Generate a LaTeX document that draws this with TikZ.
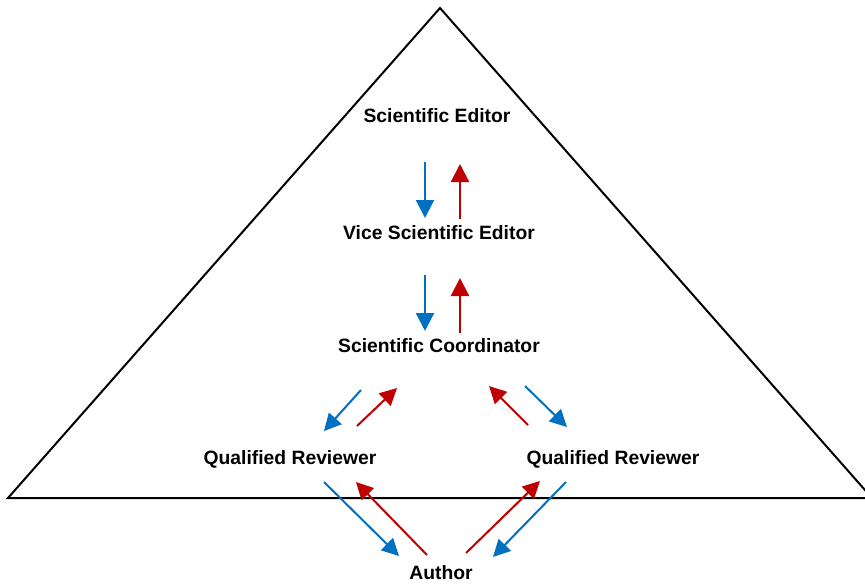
\documentclass[tikz,border=0pt]{standalone}
\usepackage{fontspec}
\setmainfont{Liberation Sans}
\usetikzlibrary{arrows.meta}
\definecolor{flowblue}{RGB}{0,112,192}
\definecolor{flowred}{RGB}{192,0,0}
\begin{document}
\begin{tikzpicture}[x=1pt,y=-1pt,
  lbl/.style={font=\fontsize{19.3}{21}\selectfont\bfseries, inner sep=0pt, anchor=center},
  down/.style={draw=flowblue, line width=2.2pt, -{Triangle[length=18pt,width=18pt]}},
  up/.style={draw=flowred, line width=2.2pt, -{Triangle[length=18pt,width=18pt]}},
  dgdown/.style={draw=flowblue, line width=2pt, -{Triangle[length=17pt,width=17pt]}},
  dgup/.style={draw=flowred, line width=2pt, -{Triangle[length=17pt,width=17pt]}}]
\useasboundingbox (0,0) rectangle (865,584);
\clip (0,0) rectangle (865,584);
\fill[white] (0,0) rectangle (865,584);
% pyramid
\coordinate (apex) at (440,8);
\coordinate (bl) at (8,498);
\coordinate (br) at (872,498);
\draw[line width=2pt, line join=miter] (bl) -- (apex) -- (br) -- cycle;
% labels
\node[lbl] (se) at (437,116) {Scientific Editor};
\node[lbl] (vse) at (439,233) {Vice Scientific Editor};
\node[lbl] (sc) at (439,346) {Scientific Coordinator};
\node[lbl] (qrl) at (290,459) {Qualified Reviewer};
\node[lbl] (qrr) at (613,459) {Qualified Reviewer};
\node[lbl] (au) at (441,573) {Author};
% vertical arrow ends
\coordinate (b1s) at (425,162); \coordinate (b1e) at (425,218);
\coordinate (r1s) at (460,219); \coordinate (r1e) at (460,164);
\coordinate (b2s) at (425,275); \coordinate (b2e) at (425,331);
\coordinate (r2s) at (460,333); \coordinate (r2e) at (460,278);
\draw[down] (b1s) -- (b1e);
\draw[up] (r1s) -- (r1e);
\draw[down] (b2s) -- (b2e);
\draw[up] (r2s) -- (r2e);
% upper diagonal arrows
\coordinate (lbs) at (361,390); \coordinate (lbe) at (324,431);
\coordinate (lrs) at (357,426); \coordinate (lre) at (397,388);
\coordinate (rrs) at (528,425); \coordinate (rre) at (489,386);
\coordinate (rbs) at (525,386); \coordinate (rbe) at (567,427);
\draw[dgdown] (lbs) -- (lbe);
\draw[dgup] (lrs) -- (lre);
\draw[dgup] (rrs) -- (rre);
\draw[dgdown] (rbs) -- (rbe);
% lower diagonal arrows
\coordinate (llbs) at (324,482); \coordinate (llbe) at (399,556);
\coordinate (llrs) at (427,555); \coordinate (llre) at (356,482);
\coordinate (lrrs) at (466,553); \coordinate (lrre) at (540,481);
\coordinate (lrbs) at (566,482); \coordinate (lrbe) at (493,557);
\draw[dgdown] (llbs) -- (llbe);
\draw[dgup] (llrs) -- (llre);
\draw[dgup] (lrrs) -- (lrre);
\draw[dgdown] (lrbs) -- (lrbe);
\end{tikzpicture}
\end{document}
